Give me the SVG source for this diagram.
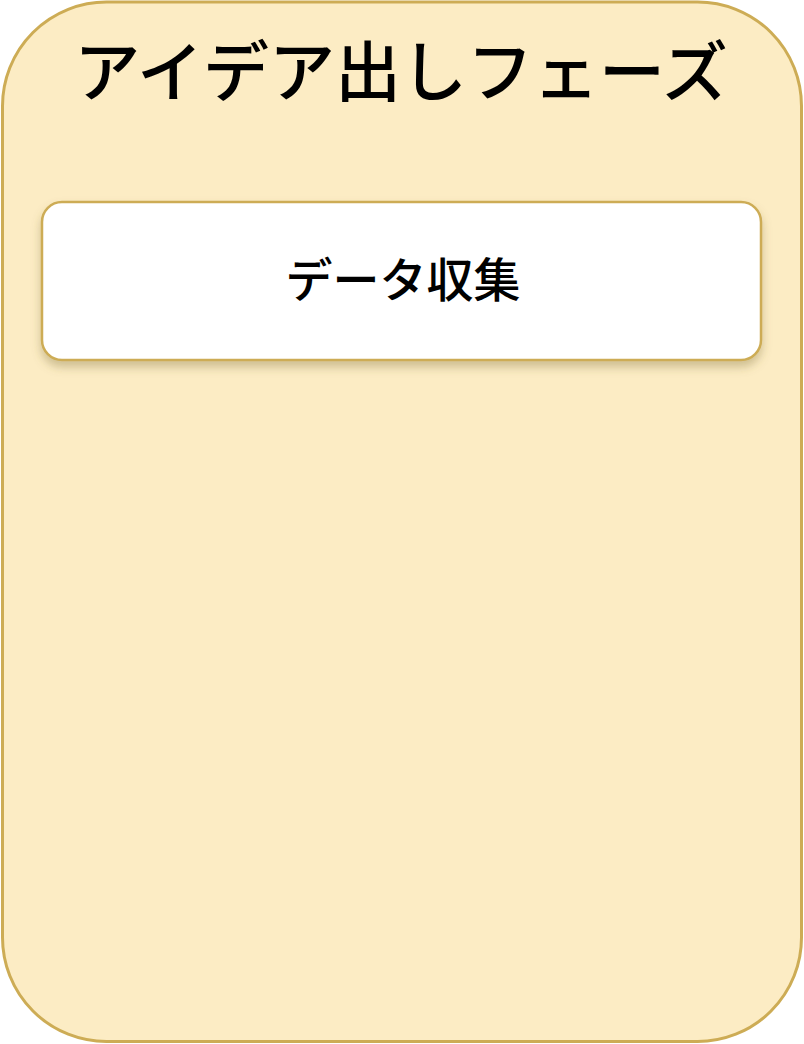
<svg xmlns="http://www.w3.org/2000/svg" width="804" height="1044" viewBox="0 0 804 1044">
<defs>
<filter id="sh" x="-10%" y="-20%" width="120%" height="150%">
<feDropShadow dx="0" dy="6" stdDeviation="5" flood-color="#7a6a30" flood-opacity="0.35"/>
</filter>
<style>
.jp{font-family:"Noto Sans CJK JP","Noto Sans",sans-serif;fill:#000;text-anchor:middle}
</style>
</defs>
<rect width="804" height="1044" fill="#ffffff"/>
<g id="phase">
<rect x="2.5" y="2" width="799" height="1039.5" rx="104" ry="104" fill="#fcecc4" stroke="#cdac55" stroke-width="3"/>
<text class="jp" x="401" y="96" font-size="66" font-weight="500">アイデア出しフェーズ</text>
</g>
<g id="data">
<rect x="42" y="202" width="719" height="158" rx="20" ry="20" fill="#ffffff" stroke="#cdac55" stroke-width="2.5" filter="url(#sh)"/>
<text class="jp" x="403" y="297" font-size="47" font-weight="500">データ収集</text>
</g>
<g id="connectors"/>
</svg>
